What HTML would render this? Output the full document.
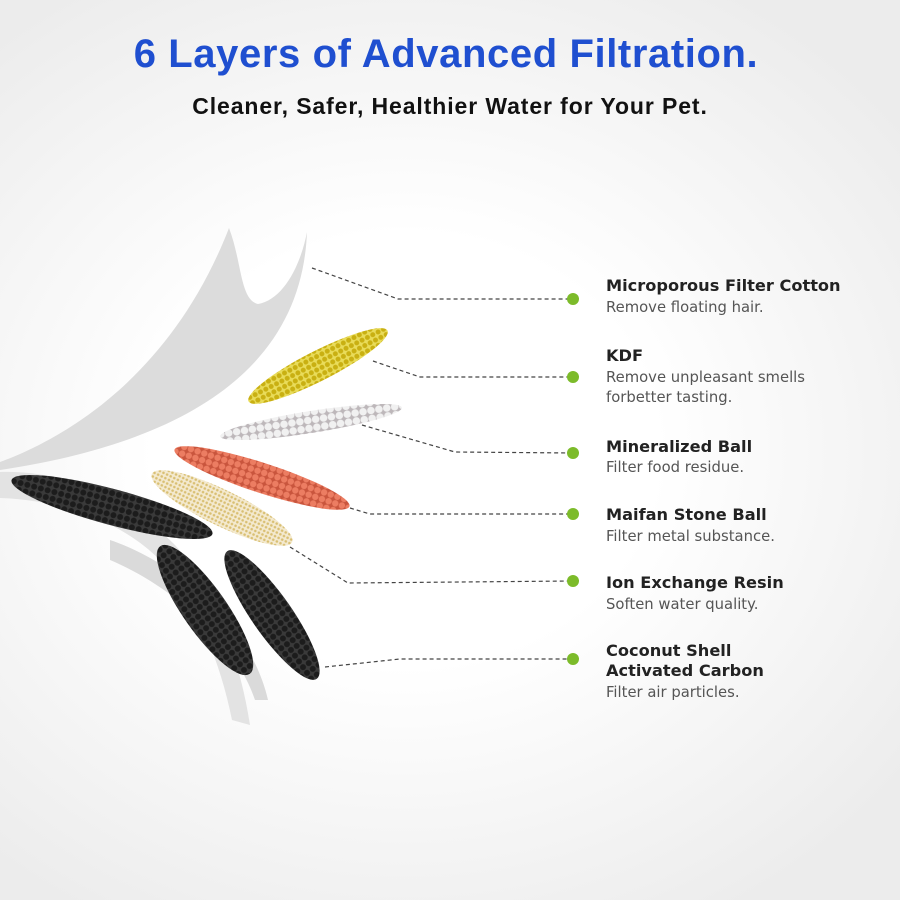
<!DOCTYPE html>
<html><head><meta charset="utf-8"><style>
html,body{margin:0;padding:0;width:900px;height:900px;overflow:hidden}
body{background:radial-gradient(ellipse 70% 60% at 45% 50%,#ffffff 40%,#ececec 100%)}
</style></head><body>
<svg width="900" height="900" viewBox="0 0 900 900" xmlns="http://www.w3.org/2000/svg" style="position:absolute;left:0;top:0">
<defs>
<pattern id="pk" width="7" height="7" patternUnits="userSpaceOnUse"><rect width="7" height="7" fill="#3a3a3a"/><circle cx="3.5" cy="3.5" r="3" fill="#1c1c1c"/></pattern>
<pattern id="py" width="6" height="6" patternUnits="userSpaceOnUse"><rect width="6" height="6" fill="#e9dc5a"/><circle cx="3" cy="3" r="2.5" fill="#c9b012"/></pattern>
<pattern id="pw" width="8" height="8" patternUnits="userSpaceOnUse"><rect width="8" height="8" fill="#bdb7ba"/><circle cx="4" cy="4" r="3.8" fill="#f1f1f1"/></pattern>
<pattern id="po" width="7" height="7" patternUnits="userSpaceOnUse"><rect width="7" height="7" fill="#c9553d"/><circle cx="3.5" cy="3.5" r="3.2" fill="#ec7d62"/></pattern>
<pattern id="pg" width="4" height="4" patternUnits="userSpaceOnUse"><rect width="4" height="4" fill="#f4ead0"/><circle cx="2" cy="2" r="1.3" fill="#d9bf72"/></pattern>
</defs>
<text x="446" y="67" text-anchor="middle" font-family="Liberation Sans, sans-serif" font-weight="bold" font-size="40" letter-spacing="0.6" fill="#1f4fd0">6 Layers of Advanced Filtration.</text>
<text x="450" y="114" text-anchor="middle" font-family="Liberation Sans, sans-serif" font-weight="bold" font-size="23" letter-spacing="0.9" fill="#111">Cleaner, Safer, Healthier Water for Your Pet.</text>

<!-- lower sheets -->
<path d="M0,472 C70,470 130,500 175,545 C215,590 240,660 250,725 L232,720 C220,660 195,600 160,560 C120,520 60,500 0,498 Z" fill="#e3e3e3"/>
<path d="M110,540 C170,560 250,620 268,700 L255,700 C235,640 170,585 110,560 Z" fill="#dadada"/>
<!-- top sheet -->
<path d="M0,462 C60,440 170,380 229,228 C242,262 240,300 258,304 C282,300 300,268 307,232 C302,360 200,440 0,470 Z" fill="#dcdcdc"/>
<!-- particles -->
<ellipse cx="112" cy="507" rx="104" ry="18" transform="rotate(15 112 507)" fill="url(#pk)"/>
<ellipse cx="205" cy="610" rx="78" ry="22" transform="rotate(55 205 610)" fill="url(#pk)"/>
<ellipse cx="272" cy="615" rx="78" ry="20" transform="rotate(55 272 615)" fill="url(#pk)"/>
<ellipse cx="222" cy="508" rx="78" ry="18" transform="rotate(26 222 508)" fill="url(#pg)"/>
<ellipse cx="262" cy="478" rx="92" ry="15" transform="rotate(18 262 478)" fill="url(#po)"/>
<ellipse cx="311" cy="422" rx="92" ry="11" transform="rotate(-9 311 422)" fill="url(#pw)"/>
<ellipse cx="318" cy="366" rx="78" ry="15" transform="rotate(-27 318 366)" fill="url(#py)"/>

<g fill="none" stroke="#444" stroke-width="1.2" stroke-dasharray="4,3">
<path d="M312,268 L398,299 L573,299"/>
<path d="M373,361 L420,377 L573,377"/>
<path d="M362,425 L455,452 L573,453"/>
<path d="M350,508 L370,514 L573,514"/>
<path d="M290,547 L348,583 L573,581"/>
<path d="M325,667 L400,659 L573,659"/>
</g>
<g fill="#7cbb2a">
<circle cx="573" cy="299" r="6"/><circle cx="573" cy="377" r="6"/><circle cx="573" cy="453" r="6"/>
<circle cx="573" cy="514" r="6"/><circle cx="573" cy="581" r="6"/><circle cx="573" cy="659" r="6"/>
</g>
<g font-family="DejaVu Sans, Liberation Sans, sans-serif">
<g font-weight="bold" fill="#222" font-size="16.2">
<text x="606" y="291">Microporous Filter Cotton</text>
<text x="606" y="361">KDF</text>
<text x="606" y="452">Mineralized Ball</text>
<text x="606" y="520">Maifan Stone Ball</text>
<text x="606" y="588">Ion Exchange Resin</text>
<text x="606" y="656">Coconut Shell</text>
<text x="606" y="676">Activated Carbon</text>
</g>
<g fill="#555" font-size="14.8">
<text x="606" y="312">Remove floating hair.</text>
<text x="606" y="382">Remove unpleasant smells</text>
<text x="606" y="402">forbetter tasting.</text>
<text x="606" y="472">Filter food residue.</text>
<text x="606" y="541">Filter metal substance.</text>
<text x="606" y="609">Soften water quality.</text>
<text x="606" y="697">Filter air particles.</text>
</g>
</g>
</svg>
</body></html>
